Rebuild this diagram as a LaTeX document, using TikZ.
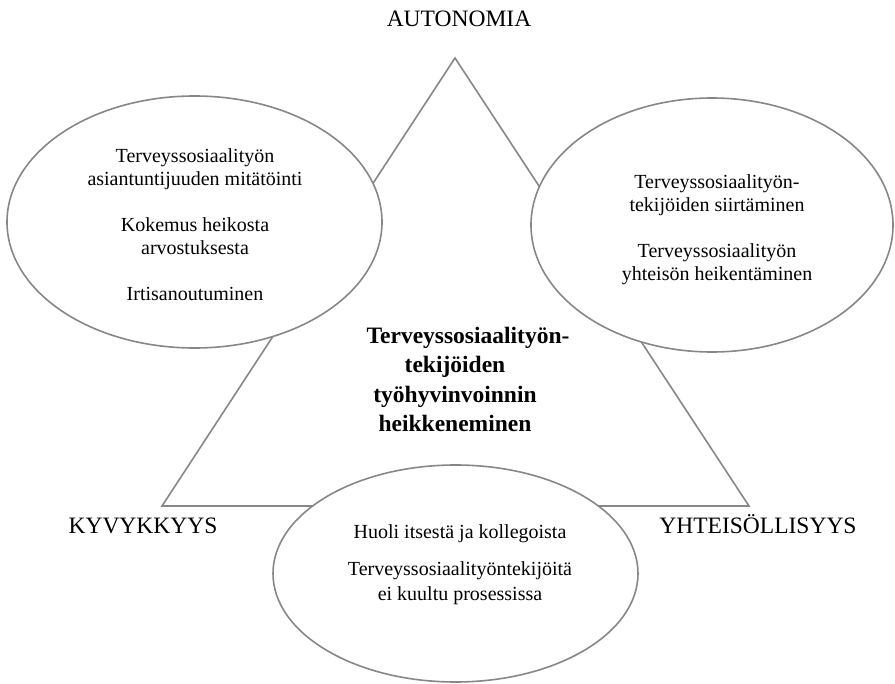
\documentclass[tikz,border=0pt]{standalone}
\usepackage{fontspec}
\setmainfont{Liberation Serif}
\usetikzlibrary{shapes.geometric}
\definecolor{linegray}{RGB}{135,135,135}
\tikzset{
  x=1pt, y=-1pt,
  triline/.style={draw=linegray, line width=1.6pt, line join=miter},
  bubble/.style={ellipse, draw=linegray, line width=1.6pt, fill=white, inner sep=0pt},
  bubbletext/.style={align=center, inner sep=0pt, font=\fontsize{20}{23}\selectfont},
  corner/.style={inner sep=0pt, font=\fontsize{23.5}{28}\selectfont},
  core/.style={align=center, inner sep=0pt, font=\fontsize{23.5}{29.5}\selectfont\bfseries}
}
\begin{document}
\begin{tikzpicture}
\useasboundingbox (0,0) rectangle (895,684);
% triangle
\coordinate (apex) at (455,58);
\coordinate (bl) at (162,506);
\coordinate (br) at (749,506);
\draw[triline] (apex) -- (bl) -- (br) -- cycle;
% corner labels
\node[corner, anchor=base] (lAut) at (459,27) {AUTONOMIA};
\node[corner, anchor=base] (lKyv) at (143,533) {KYVYKKYYS};
\node[corner, anchor=base] (lYht) at (758,533) {YHTEISÖLLISYYS};
% ellipses
\node[bubble, minimum width=375, minimum height=252] (eL) at (194.5,222) {};
\node[bubble, minimum width=362, minimum height=254] (eR) at (712,225) {};
\node[bubble, minimum width=365, minimum height=217] (eB) at (455.5,573.5) {};
% ellipse texts
\node[bubbletext] (tL) at (195,224.7) {Terveyssosiaalityön\\asiantuntijuuden mitätöinti\\[23pt]Kokemus heikosta\\arvostuksesta\\[23pt]Irtisanoutuminen};
\node[bubbletext] (tR) at (717,229.3) {Terveyssosiaalityön-\\tekijöiden siirtäminen\\[23pt]Terveyssosiaalityön\\yhteisön heikentäminen};
\node[bubbletext, font=\fontsize{20}{25.5}\selectfont] (tB) at (460,565) {Huoli itsestä ja kollegoista\\[11pt]Terveyssosiaalityöntekijöitä\\ei kuultu prosessissa};
% central text
\node[core] (center) at (455,379.5) {\hspace*{26pt}Terveyssosiaalityön-\\tekijöiden\\työhyvinvoinnin\\heikkeneminen};
\end{tikzpicture}
\end{document}
